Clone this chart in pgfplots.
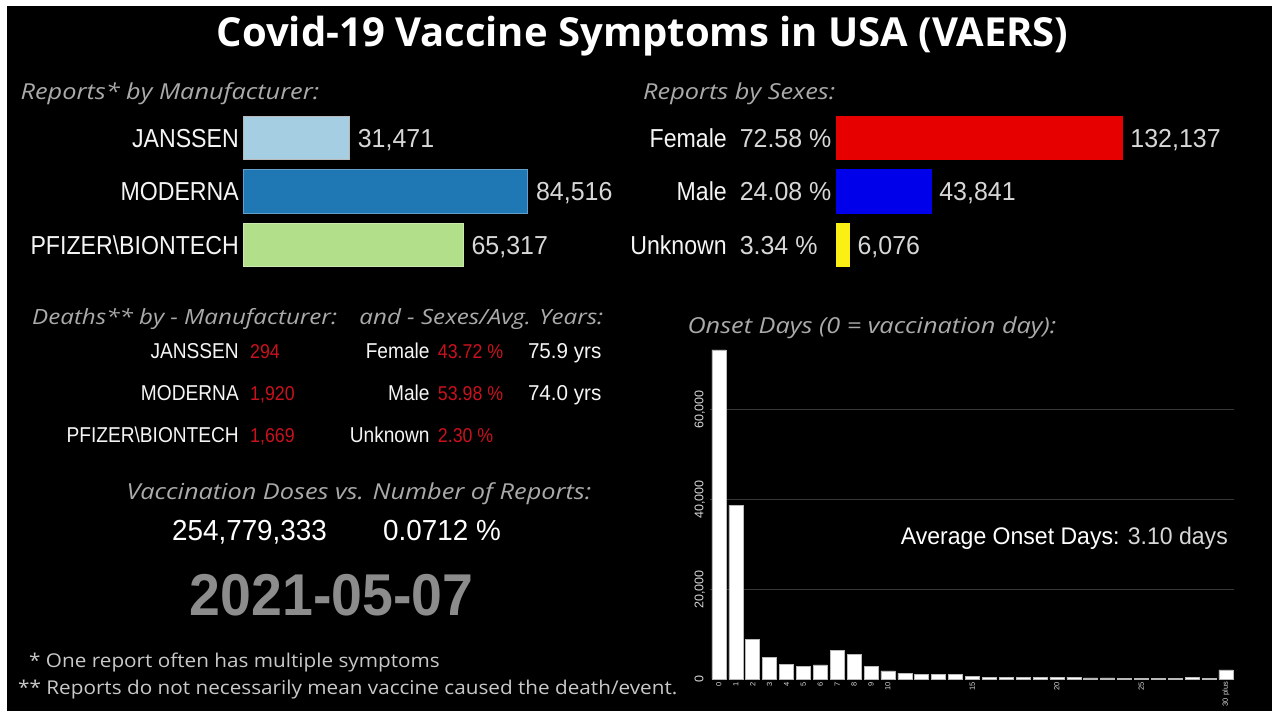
\documentclass[border=0pt]{standalone}
\usepackage{pgfplots}
\usepackage{pgfplotstable}
\pgfplotsset{compat=1.18}
\usepackage{fontspec}
\setmainfont{Liberation Sans}
\newfontfamily\osans{Open Sans}
\newfontfamily\osanshdr{Open Sans}[FakeStretch=1.15]
\newfontfamily\osansft{Open Sans}[FakeStretch=1.09]
\newfontfamily\cnd{Liberation Sans}[FakeStretch=0.89]
\newfontfamily\cndn{Liberation Sans}[FakeStretch=0.96]
\newfontfamily\cndb{Liberation Sans}[FakeStretch=0.94]

\definecolor{hdrgray}{RGB}{170,170,170}
\definecolor{valgray}{RGB}{215,215,215}
\definecolor{lblwhite}{RGB}{245,245,245}
\definecolor{dred}{RGB}{200,18,30}
\definecolor{jan}{RGB}{166,206,227}
\definecolor{mod}{RGB}{31,120,180}
\definecolor{pfz}{RGB}{178,223,138}
\definecolor{fem}{RGB}{230,0,0}
\definecolor{mal}{RGB}{0,0,235}
\definecolor{unk}{RGB}{250,240,20}
\definecolor{gridc}{RGB}{55,55,55}
\definecolor{dategray}{RGB}{140,140,140}
\definecolor{footgray}{RGB}{200,200,200}
\definecolor{edgegray}{RGB}{185,185,185}

% onset days histogram (0 = vaccination day, 30 = 30 plus)
\pgfplotstableread{
day count
0 73200
1 38700
2 8950
3 4900
4 3350
5 2800
6 3180
7 6480
8 5500
9 2950
10 1850
11 1330
12 1110
13 1050
14 1100
15 640
16 500
17 480
18 480
19 500
20 380
21 500
22 300
23 300
24 260
25 260
26 260
27 260
28 480
29 220
30 2070
}\onset

\tikzset{
  hdr/.style={font=\osanshdr\itshape\fontsize{22}{24}\selectfont, text=hdrgray, inner sep=0pt, anchor=base west},
  row/.style={font=\cnd\fontsize{21.5}{21.5}\selectfont, inner sep=0pt},
  rown/.style={font=\cndn\fontsize{21.5}{21.5}\selectfont, inner sep=0pt},
  rowr/.style={font=\cnd\fontsize{20}{20}\selectfont, inner sep=0pt, text=dred},
}

% sex label: name right-aligned, share left-aligned in its own column
\newcommand{\sexlbl}[2]{#1\hspace{13pt}\makebox[87.5pt][l]{\textcolor{valgray}{\cndn #2}}}

\pgfplotsset{
  hbars/.style={
    scale only axis, xbar, clip=false,
    ymin=-0.5, ymax=2.5, y dir=reverse, ytick={0,1,2},
    xtick=\empty, axis line style={draw=none}, major tick length=0pt,
    y tick label style={font=\cnd\fontsize{26}{26}\selectfont, text=lblwhite, anchor=east, inner sep=0pt, text height=18.6pt, text depth=0pt},
    nodes near coords, nodes near coords align={horizontal},
    every node near coord/.append style={font=\cndn\fontsize{26}{26}\selectfont, color=valgray, text=valgray, anchor=west, inner sep=0pt, xshift=8pt, text height=18.6pt, text depth=0pt},
    /pgf/number format/.cd, fixed, precision=0, 1000 sep={,}, assume math mode=true,
  },
}

\begin{document}
\begin{tikzpicture}
\path[use as bounding box] (0pt,0pt) rectangle (1280pt,-720pt);
\begin{scope}[x=1pt,y=-1pt]
  \fill[white] (0,0) rectangle (1280,720);
  \fill[black] (7,6) rectangle (1272,711);

  % title
  \node[font=\osans\bfseries\fontsize{40}{42}\selectfont, text=white, inner sep=0pt, anchor=base] at (642.5,46) {Covid-19 Vaccine Symptoms in USA (VAERS)};

  % section headers
  \node[hdr] at (20.4,99.3) {Reports* by Manufacturer:};
  \node[hdr] at (643,99.3) {Reports by Sexes:};
  \node[hdr, font=\osanshdr\itshape\fontsize{21}{24}\selectfont] at (32,324) {Deaths** by - Manufacturer:\hspace{14pt} and - Sexes/Avg. Years:};
  \node[hdr] at (687.3,333) {Onset Days (0 = vaccination day):};
  \node[hdr] at (126.3,499) {Vaccination Doses vs. Number of Reports:};

  % deaths table
  \node[row, anchor=base east, text=lblwhite] at (239,358.6) {JANSSEN};
  \node[row, anchor=base east, text=lblwhite] at (239,400.3) {MODERNA};
  \node[row, anchor=base east, text=lblwhite] at (239,442) {PFIZER\textbackslash BIONTECH};
  \node[rowr, anchor=base west] at (250,358.6) {294};
  \node[rowr, anchor=base west] at (250,400.3) {1,920};
  \node[rowr, anchor=base west] at (250,442) {1,669};
  \node[row, anchor=base east, text=lblwhite] at (429.8,358.6) {Female};
  \node[row, anchor=base east, text=lblwhite] at (429.8,400.3) {Male};
  \node[row, anchor=base east, text=lblwhite] at (429.8,442) {Unknown};
  \node[rowr, anchor=base west] at (437.7,358.6) {43.72 \%};
  \node[rowr, anchor=base west] at (437.7,400.3) {53.98 \%};
  \node[rowr, anchor=base west] at (437.7,442) {2.30 \%};
  \node[rown, anchor=base west, text=lblwhite] at (527.8,358.6) {75.9 yrs};
  \node[rown, anchor=base west, text=lblwhite] at (527.8,400.3) {74.0 yrs};

  % doses
  \node[font=\cndn\fontsize{29}{29}\selectfont, text=white, inner sep=0pt, anchor=base west] at (171.9,540) {254,779,333};
  \node[font=\cndn\fontsize{29}{29}\selectfont, text=white, inner sep=0pt, anchor=base west] at (383,540) {0.0712 \%};
  \node[font=\cndb\bfseries\fontsize{59}{59}\selectfont, text=dategray, inner sep=0pt, anchor=base west] at (189.7,615) {2021-05-07};

  % footnotes
  \node[font=\osansft\fontsize{19}{20}\selectfont, text=footgray, inner sep=0pt, anchor=base west] at (29,667.5) {* One report often has multiple symptoms};
  \node[font=\osansft\fontsize{19}{20}\selectfont, text=footgray, inner sep=0pt, anchor=base west] at (18,694) {** Reports do not necessarily mean vaccine caused the death/event.};

  % average onset
  \node[font=\cndn\fontsize{24}{24}\selectfont, text=white, inner sep=0pt, anchor=base east] at (1228,544) {Average Onset Days:\hspace{0.35em}\textcolor{valgray}{3.10 days}};
\end{scope}

% reports by manufacturer
\begin{axis}[hbars,
  at={(243.7pt,-272pt)}, anchor=south west,
  width=336pt, height=161.1pt, bar width=43.3pt,
  xmin=0, xmax=100000,
  yticklabels={JANSSEN,MODERNA,PFIZER\textbackslash BIONTECH},
  y tick label style={xshift=-4.7pt},
]
\addplot[bar shift=0pt, fill=jan, draw=edgegray, line width=0.8pt] coordinates {(31471,0)};
\addplot[bar shift=0pt, fill=mod, draw=mod!70!white, line width=0.8pt] coordinates {(84516,1)};
\addplot[bar shift=0pt, fill=pfz, draw=pfz!70!white, line width=0.8pt] coordinates {(65317,2)};
\end{axis}

% reports by sexes
\begin{axis}[hbars,
  at={(836pt,-272pt)}, anchor=south west,
  width=324.7pt, height=161.1pt, bar width=43.3pt,
  xmin=0, xmax=150000,
  yticklabels={{\sexlbl{Female}{72.58 \%}},{\sexlbl{Male}{24.08 \%}},{\sexlbl{Unknown}{3.34 \%}}},
  y tick label style={xshift=-8.5pt},
]
\addplot[bar shift=0pt, fill=fem, draw=fem, line width=0.8pt] coordinates {(132137,0)};
\addplot[bar shift=0pt, fill=mal, draw=mal, line width=0.8pt] coordinates {(43841,1)};
\addplot[bar shift=0pt, fill=unk, draw=unk, line width=0.8pt] coordinates {(6076,2)};
\end{axis}

% onset days histogram
\begin{axis}[
  at={(710.45pt,-679.3pt)}, anchor=south west,
  scale only axis, width=523.9pt, height=333pt, clip=false,
  ybar, bar width=14pt,
  xmin=-0.5, xmax=30.5, ymin=0, ymax=74000,
  xtick={0,1,2,3,4,5,6,7,8,9,10,15,20,25,30},
  xticklabels={0,1,2,3,4,5,6,7,8,9,10,15,20,25,30 plus},
  ytick={20000,40000,60000}, extra y ticks={0}, extra y tick style={grid=none},
  scaled y ticks=false,
  ymajorgrids, grid style={color=gridc, line width=1.6pt},
  axis line style={draw=none}, major tick length=0pt,
  x tick label style={font=\fontsize{7.5}{7.5}\selectfont, text=valgray, yshift=-2.5pt, rotate=90, anchor=east, inner sep=0pt},
  y tick label style={font=\fontsize{12.5}{12.5}\selectfont, text=valgray, xshift=-7pt, rotate=90, anchor=south, inner sep=0pt, text depth=0pt},
  /pgf/number format/.cd, fixed, precision=0, 1000 sep={,}, assume math mode=true,
]
\addplot[bar shift=0pt, fill=white, draw=edgegray, line width=0.6pt] table[x=day, y=count] {\onset};
\end{axis}
\end{tikzpicture}
\end{document}
